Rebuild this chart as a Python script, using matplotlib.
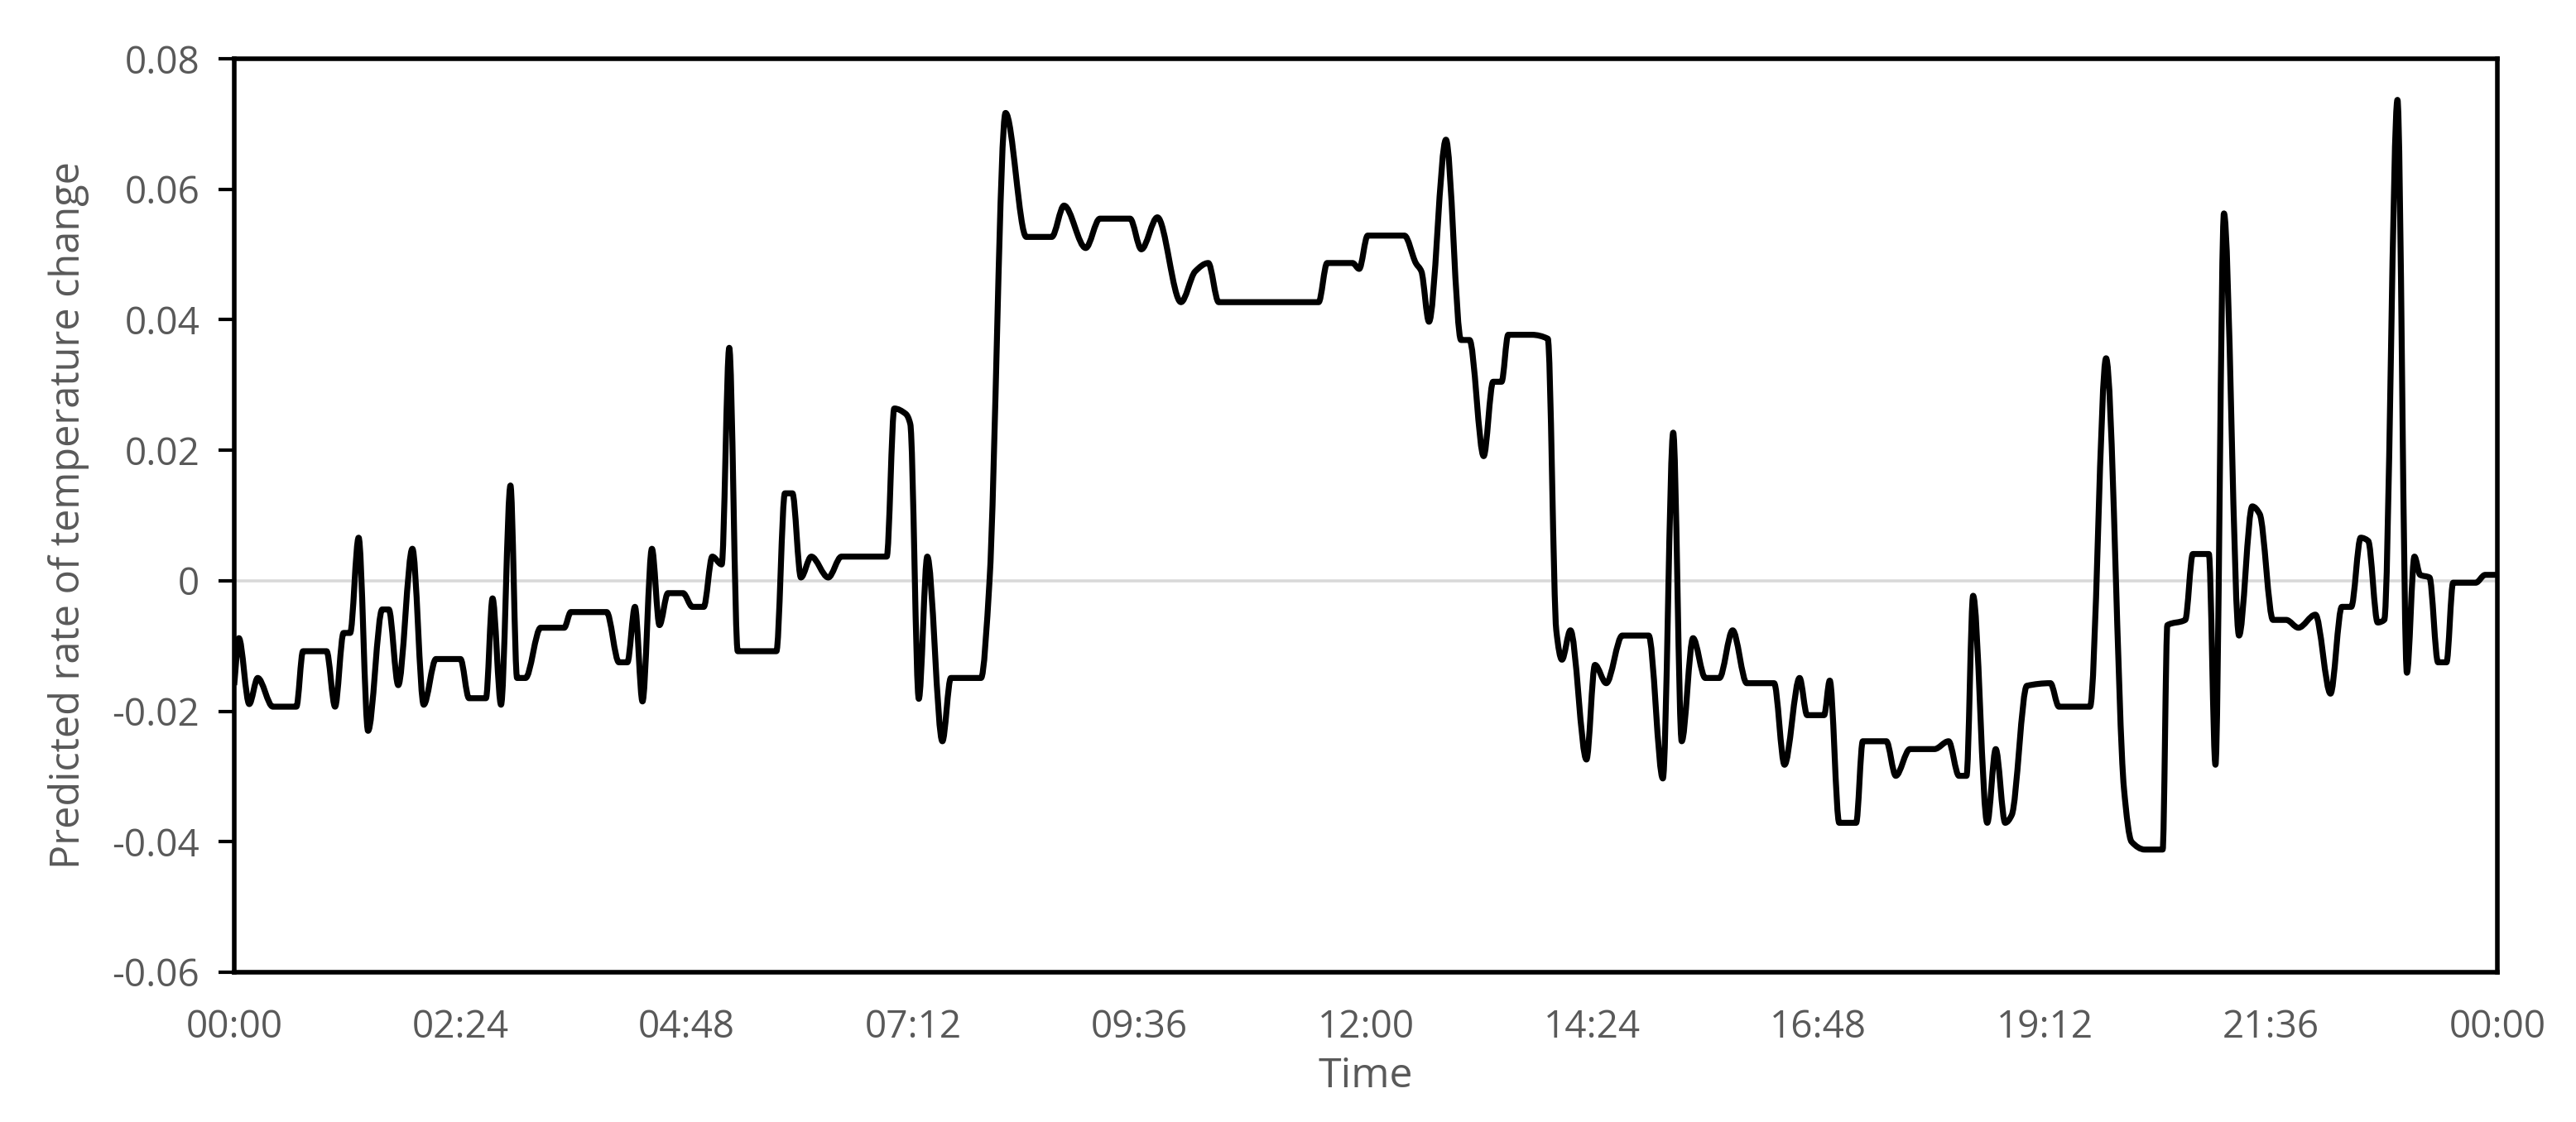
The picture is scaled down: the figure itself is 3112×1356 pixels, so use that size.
import matplotlib
matplotlib.use("Agg")
import matplotlib.pyplot as plt
from matplotlib.path import Path
from matplotlib.patches import PathPatch

# time in hours since 00:00, predicted rate
hours = [0.00, 0.05, 0.16, 0.25, 0.41, 0.66, 0.73, 0.98, 1.07, 1.16, 1.23, 1.32, 1.42,
         1.57, 1.64, 1.74, 1.89, 2.01, 2.14, 2.40, 2.49, 2.67, 2.74, 2.83, 2.93, 3.00,
         3.09, 3.25, 3.50, 3.57, 3.95, 4.08, 4.17, 4.25, 4.33, 4.43, 4.51, 4.60, 4.76,
         4.86, 4.98, 5.07, 5.17, 5.25, 5.34, 5.75, 5.84, 5.92, 6.01, 6.12, 6.30, 6.44,
         6.92, 7.00, 7.12, 7.17, 7.26, 7.35, 7.51, 7.60, 7.92, 8.01, 8.18, 8.40, 8.67,
         8.80, 9.03, 9.18, 9.50, 9.62, 9.79, 10.04, 10.19, 10.33, 10.44, 11.50, 11.59,
         11.86, 11.93, 12.02, 12.41, 12.53, 12.59, 12.67, 12.85, 13.01, 13.10, 13.25,
         13.35, 13.44, 13.51, 13.76, 13.93, 14.02, 14.08, 14.17, 14.34, 14.43, 14.55,
         14.72, 15.00, 15.15, 15.26, 15.35, 15.47, 15.60, 15.75, 15.89, 16.04, 16.33,
         16.44, 16.60, 16.68, 16.86, 16.92, 17.02, 17.20, 17.27, 17.52, 17.62, 17.77,
         18.03, 18.18, 18.29, 18.37, 18.44, 18.59, 18.68, 18.78, 18.85, 19.01, 19.26,
         19.35, 19.68, 19.85, 20.04, 20.12, 20.26, 20.45, 20.50, 20.69, 20.77, 20.94,
         21.01, 21.10, 21.26, 21.40, 21.48, 21.62, 21.76, 21.89, 22.07, 22.23, 22.35,
         22.45, 22.55, 22.63, 22.73, 22.80, 22.94, 23.04, 23.12, 23.18, 23.28, 23.37,
         23.46, 23.53, 23.77, 23.87, 24.00]
rate = [-0.0160, -0.0088, -0.0189, -0.0149, -0.0193, -0.0193, -0.0108, -0.0108, -0.0193,
        -0.0080, -0.0080, 0.0066, -0.0230, -0.0044, -0.0044, -0.0160, 0.0049, -0.0190,
        -0.0120, -0.0120, -0.0180, -0.0180, -0.0027, -0.0190, 0.0146, -0.0149, -0.0149,
        -0.0072, -0.0072, -0.0048, -0.0048, -0.0125, -0.0125, -0.0040, -0.0185, 0.0049,
        -0.0068, -0.0019, -0.0019, -0.0040, -0.0040, 0.0037, 0.0025, 0.0357, -0.0108,
        -0.0108, 0.0134, 0.0134, 0.0005, 0.0037, 0.0005, 0.0037, 0.0037, 0.0264, 0.0256,
        0.0240, -0.0181, 0.0037, -0.0246, -0.0149, -0.0149, 0.0000, 0.0717, 0.0527,
        0.0527, 0.0575, 0.0510, 0.0555, 0.0555, 0.0508, 0.0557, 0.0427, 0.0474, 0.0487,
        0.0427, 0.0427, 0.0487, 0.0487, 0.0478, 0.0529, 0.0529, 0.0487, 0.0474, 0.0397,
        0.0676, 0.0369, 0.0369, 0.0191, 0.0305, 0.0305, 0.0377, 0.0377, 0.0371, -0.0076,
        -0.0121, -0.0076, -0.0274, -0.0129, -0.0157, -0.0084, -0.0084, -0.0303, 0.0227,
        -0.0246, -0.0088, -0.0149, -0.0149, -0.0076, -0.0157, -0.0157, -0.0282, -0.0149,
        -0.0206, -0.0206, -0.0153, -0.0371, -0.0371, -0.0246, -0.0246, -0.0299, -0.0258,
        -0.0258, -0.0246, -0.0299, -0.0299, -0.0023, -0.0371, -0.0258, -0.0371, -0.0359,
        -0.0161, -0.0157, -0.0193, -0.0193, 0.0341, -0.0319, -0.0400, -0.0412, -0.0412,
        -0.0068, -0.0060, 0.0041, 0.0041, -0.0282, 0.0563, -0.0084, 0.0114, 0.0102,
        -0.0060, -0.0060, -0.0072, -0.0052, -0.0173, -0.0040, -0.0040, 0.0066, 0.0061,
        -0.0064, -0.0060, 0.0737, -0.0141, 0.0037, 0.0009, 0.0005, -0.0125, -0.0125,
        -0.0003, -0.0003, 0.0009, 0.0009]

tick_hours = [0, 2.4, 4.8, 7.2, 9.6, 12.0, 14.4, 16.8, 19.2, 21.6, 24.0]
tick_labels = ["00:00", "02:24", "04:48", "07:12", "09:36", "12:00",
               "14:24", "16:48", "19:12", "21:36", "00:00"]
y_ticks = [-0.06, -0.04, -0.02, 0, 0.02, 0.04, 0.06, 0.08]
y_labels = ["-0.06", "-0.04", "-0.02", "0", "0.02", "0.04", "0.06", "0.08"]


def smooth_path(xs, ys):
    # smoothed line drawn as Bezier segments through the points,
    # monotone tangents so flat stretches stay flat
    n = len(xs)
    d = [(ys[i + 1] - ys[i]) / (xs[i + 1] - xs[i]) for i in range(n - 1)]
    m = [d[0]] + [0.0] * (n - 2) + [d[-1]]
    for i in range(1, n - 1):
        if d[i - 1] * d[i] > 0:
            m[i] = 2 / (1 / d[i - 1] + 1 / d[i])
    verts = [(xs[0], ys[0])]
    codes = [Path.MOVETO]
    for i in range(n - 1):
        h = (xs[i + 1] - xs[i]) / 3
        verts += [(xs[i] + h, ys[i] + m[i] * h),
                  (xs[i + 1] - h, ys[i + 1] - m[i + 1] * h),
                  (xs[i + 1], ys[i + 1])]
        codes += [Path.CURVE4] * 3
    return Path(verts, codes)


plt.rcParams['font.family'] = ['Open Sans', 'DejaVu Sans']
grey = '#595959'

fig = plt.figure(figsize=(15.56, 6.78), dpi=200)
ax = fig.add_axes([0.0909, 0.1335, 0.8786, 0.8141])

ax.axhline(0, color='#d9d9d9', lw=1.3, zorder=1)
ax.add_patch(PathPatch(smooth_path(hours, rate), facecolor='none', edgecolor='black',
                       lw=2.6, joinstyle='round', zorder=3))

ax.set_xlim(0, 24)
ax.set_ylim(-0.06, 0.08)
ax.set_xticks(tick_hours)
ax.set_xticklabels(tick_labels)
ax.set_yticks(y_ticks)
ax.set_yticklabels(y_labels)
ax.tick_params(axis='x', length=0, pad=16, labelsize=16.5, labelcolor=grey)
ax.tick_params(axis='y', length=7, width=1.5, pad=8, labelsize=16.5, labelcolor=grey)

for s in ax.spines.values():
    s.set_linewidth(2.0)
    s.set_color('black')

ax.set_xlabel('Time', fontsize=18, color=grey, labelpad=4)
ax.set_ylabel('Predicted rate of temperature change', fontsize=17.5, color=grey, labelpad=10)

fig.savefig('out.png', dpi=200)
